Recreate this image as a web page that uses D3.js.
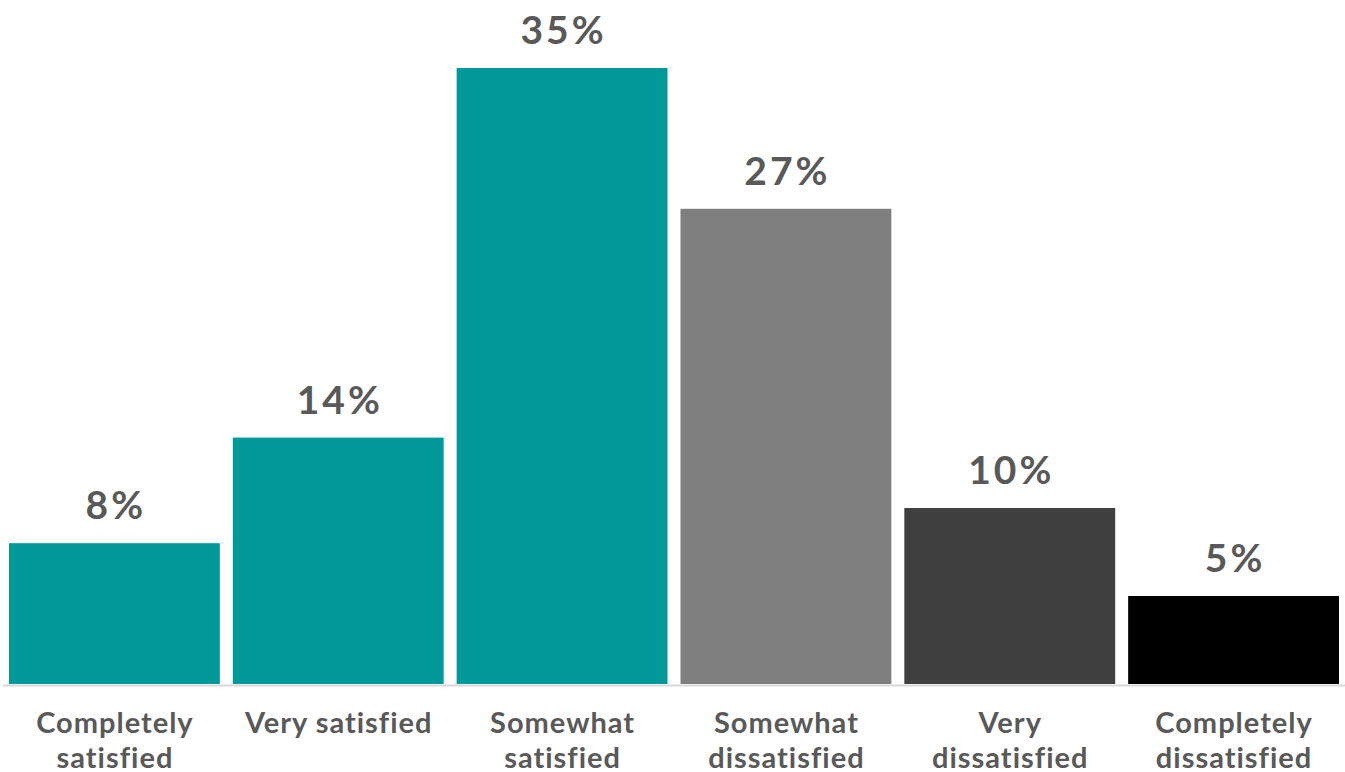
<!DOCTYPE html>
<html>
<head>
<meta charset="utf-8">
<script src="https://cdn.jsdelivr.net/npm/d3@7"></script>
<style>
  body { margin: 0; background: #fff; }
  svg { display: block; font-family: Lato, "Open Sans", sans-serif; }
</style>
</head>
<body>
<svg class="chart"></svg>
<script>
const categories = ["Completely satisfied", "Very satisfied", "Somewhat satisfied",
                    "Somewhat dissatisfied", "Very dissatisfied", "Completely dissatisfied"];
const labelLines = [["Completely", "satisfied"], ["Very satisfied"], ["Somewhat", "satisfied"],
                    ["Somewhat", "dissatisfied"], ["Very", "dissatisfied"], ["Completely", "dissatisfied"]];
const values = [8, 14, 35, 27, 10, 5];
const colors = ["#03989a", "#03989a", "#03989a", "#7f7f7f", "#404040", "#000000"];

const width = 1345, height = 772;
const baseline = 684;

const svg = d3.select(".chart")
    .attr("width", width)
    .attr("height", height);

const x = d3.scaleBand()
    .domain(categories)
    .range([2.5, 1345.5])
    .paddingInner(0.058)
    .paddingOuter(0.029);

const y = d3.scaleLinear()
    .domain([0, 35])
    .range([baseline, 68]);

const data = categories.map((c, i) => ({ c, v: values[i], color: colors[i], lines: labelLines[i] }));

svg.selectAll(".bar")
    .data(data)
    .enter().append("rect")
    .attr("class", "bar")
    .attr("x", d => x(d.c))
    .attr("y", d => y(d.v))
    .attr("width", x.bandwidth())
    .attr("height", d => y(0) - y(d.v))
    .attr("fill", d => d.color);

const axis = svg.append("g")
    .attr("transform", `translate(0, ${baseline + 1})`)
    .call(d3.axisBottom(x).tickSize(0).tickSizeOuter(0).tickFormat(""));
axis.select(".domain").attr("stroke", "#d9d9d9").attr("stroke-width", 2);

// value labels above the bars
svg.selectAll(".value")
    .data(data)
    .enter().append("text")
    .attr("class", "value")
    .attr("x", d => x(d.c) + x.bandwidth() / 2 + 1.5)
    .attr("y", d => y(d.v) - 24)
    .attr("text-anchor", "middle")
    .attr("font-size", 39)
    .attr("font-weight", 700)
    .attr("letter-spacing", 3)
    .attr("fill", "#595959")
    .text(d => d.v + "%");

const cat = svg.selectAll(".cat")
    .data(data)
    .enter().append("text")
    .attr("class", "cat")
    .attr("text-anchor", "middle")
    .attr("font-size", 29)
    .attr("font-weight", 700)
    .attr("letter-spacing", 1)
    .attr("fill", "#595959");

cat.selectAll("tspan")
    .data(d => d.lines.map(l => ({ l, cx: x(d.c) + x.bandwidth() / 2 + 0.5 })))
    .enter().append("tspan")
    .attr("x", d => d.cx)
    .attr("y", (d, i) => 733 + i * 35)
    .text(d => d.l);
</script>
</body>
</html>
